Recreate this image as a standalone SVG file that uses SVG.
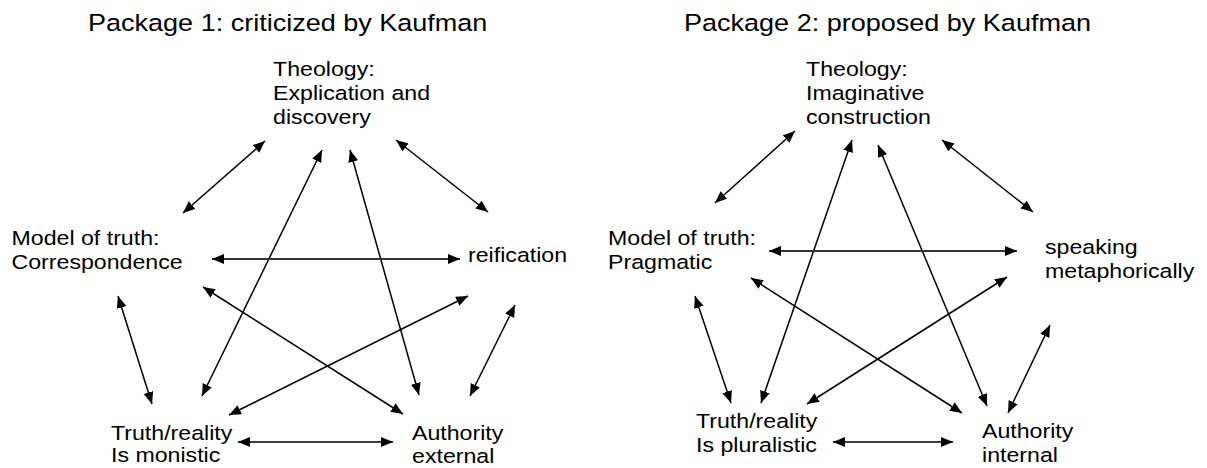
<svg xmlns="http://www.w3.org/2000/svg" width="1207" height="468" viewBox="0 0 1207 468">
  <style>
    text { font-family: "Liberation Sans", Arial, sans-serif; fill: #000; }
    .title { font-size: 23.5px; }
    .lbl { font-size: 20.5px; }
    .link { stroke: #000; stroke-width: 1.5; fill: none; marker-start: url(#head); marker-end: url(#head); }
    .link.mid { stroke: #333; stroke-width: 2; }
  </style>
  <defs>
    <marker id="head" markerUnits="userSpaceOnUse" markerWidth="13" markerHeight="11" refX="12" refY="5" orient="auto-start-reverse">
      <path d="M0,0 L12,5 L0,10 z" fill="#000"/>
    </marker>
  </defs>
  <rect width="1207" height="468" fill="#fff"/>

  <!-- Package 1 -->
  <g id="package1">
    <text class="title" transform="translate(88 31) scale(1.15 1)">Package 1: criticized by Kaufman</text>

    <g id="p1-theology">
      <text class="lbl" transform="translate(273 76) scale(1.13 1)"><tspan x="0" y="0">Theology:</tspan><tspan x="0" y="24">Explication and</tspan><tspan x="0" y="48">discovery</tspan></text>
    </g>
    <g id="p1-model">
      <text class="lbl" transform="translate(11.5 245) scale(1.13 1)"><tspan x="0" y="0">Model of truth:</tspan><tspan x="0" y="24">Correspondence</tspan></text>
    </g>
    <g id="p1-reification">
      <text class="lbl" transform="translate(468 262) scale(1.13 1)">reification</text>
    </g>
    <g id="p1-truth">
      <text class="lbl" transform="translate(111 440) scale(1.13 1)"><tspan x="0" y="0">Truth/reality</tspan><tspan x="0" y="22.5">Is monistic</tspan></text>
    </g>
    <g id="p1-authority">
      <text class="lbl" transform="translate(412 440) scale(1.13 1)"><tspan x="0" y="0">Authority</tspan><tspan x="0" y="23">external</tspan></text>
    </g>

    <g id="p1-connectors">
      <line class="link" x1="265" y1="141" x2="183" y2="213"/>
      <line class="link" x1="322" y1="150" x2="202" y2="396"/>
      <line class="link" x1="350" y1="150" x2="419" y2="395"/>
      <line class="link" x1="396" y1="140" x2="488" y2="212"/>
      <line class="link mid" x1="212" y1="259" x2="460" y2="259"/>
      <line class="link" x1="203" y1="287" x2="403" y2="414"/>
      <line class="link" x1="118" y1="296" x2="152" y2="404"/>
      <line class="link" x1="468" y1="296" x2="229" y2="415"/>
      <line class="link" x1="515" y1="305" x2="470" y2="396"/>
      <line class="link" x1="238" y1="442" x2="393" y2="442"/>
    </g>
  </g>

  <!-- Package 2 -->
  <g id="package2">
    <text class="title" transform="translate(684 31) scale(1.15 1)">Package 2: proposed by Kaufman</text>

    <g id="p2-theology">
      <text class="lbl" transform="translate(806 76) scale(1.13 1)"><tspan x="0" y="0">Theology:</tspan><tspan x="0" y="24">Imaginative</tspan><tspan x="0" y="48">construction</tspan></text>
    </g>
    <g id="p2-model">
      <text class="lbl" transform="translate(608 245) scale(1.13 1)"><tspan x="0" y="0">Model of truth:</tspan><tspan x="0" y="24">Pragmatic</tspan></text>
    </g>
    <g id="p2-speaking">
      <text class="lbl" transform="translate(1045 254) scale(1.13 1)"><tspan x="0" y="0">speaking</tspan><tspan x="0" y="24">metaphorically</tspan></text>
    </g>
    <g id="p2-truth">
      <text class="lbl" transform="translate(696 428) scale(1.13 1)"><tspan x="0" y="0">Truth/reality</tspan><tspan x="0" y="24">Is pluralistic</tspan></text>
    </g>
    <g id="p2-authority">
      <text class="lbl" transform="translate(982 438) scale(1.13 1)"><tspan x="0" y="0">Authority</tspan><tspan x="0" y="24">internal</tspan></text>
    </g>

    <g id="p2-connectors">
      <line class="link" x1="795" y1="131" x2="715" y2="203"/>
      <line class="link" x1="852" y1="140" x2="761" y2="403"/>
      <line class="link" x1="878" y1="145" x2="987" y2="406"/>
      <line class="link" x1="942" y1="140" x2="1033" y2="212"/>
      <line class="link mid" x1="769" y1="251" x2="1017" y2="251"/>
      <line class="link" x1="751" y1="278" x2="962" y2="413"/>
      <line class="link" x1="695" y1="296" x2="731" y2="403"/>
      <line class="link" x1="1007" y1="277" x2="807" y2="404"/>
      <line class="link" x1="1050" y1="325" x2="1008" y2="413"/>
      <line class="link" x1="833" y1="442" x2="953" y2="442"/>
    </g>
  </g>
</svg>
